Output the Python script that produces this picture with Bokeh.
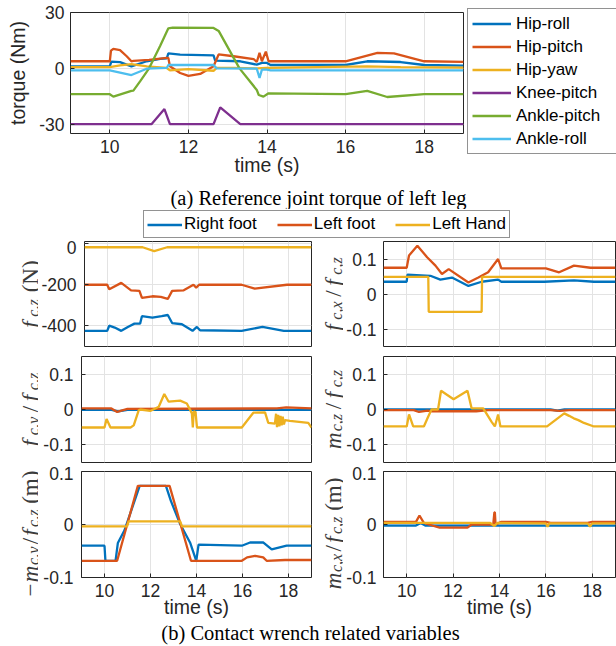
import math
from bokeh.plotting import figure
from bokeh.models import Legend, LegendItem, Label, FixedTicker, Range1d
from bokeh.layouts import column, row
from bokeh.embed import file_html
from bokeh.resources import INLINE

# ---------------- data: (a) reference joint torque of left leg ----------------
joint_names = ["Hip-roll", "Hip-pitch", "Hip-yaw", "Knee-pitch", "Ankle-pitch", "Ankle-roll"]

hip_roll_t = [9, 10.0, 10.04, 10.26, 10.55, 10.94, 11.28, 11.45, 11.49, 11.79, 12.64, 12.68, 13.32, 13.74, 13.87, 14.0, 14.09, 16.0, 16.55, 17.4, 18.0, 19]
hip_roll_v = [1.1, 1.1, 3.6, 3.3, 1.1, 3.8, 5.1, 5.4, 8.0, 7.4, 7.0, 4.2, 3.8, 2.0, 2.9, 2.9, 1.8, 1.8, 3.8, 3.4, 1.8, 1.5]

hip_pitch_t = [9, 10.0, 10.03, 10.09, 10.26, 10.43, 10.55, 10.6, 11.0, 11.45, 11.49, 11.53, 11.79, 12.0, 12.3, 12.64, 12.72, 12.77, 13.15, 13.66, 13.74, 13.81, 13.87, 13.97, 14.04, 16.0, 16.81, 17.23, 18.0, 19]
hip_pitch_v = [3.8, 3.8, 9.5, 10.5, 9.8, 6.5, 3.8, 4.0, 4.5, 5.6, 5.6, 1.1, -2.5, -4.0, -3.0, 1.1, 5.0, 7.5, 6.5, 5.0, 3.4, 8.3, 3.8, 9.0, 3.8, 3.8, 8.3, 8.0, 3.8, 3.5]

hip_yaw_t = [9, 10.0, 10.26, 10.55, 10.94, 11.45, 11.53, 12.0, 12.64, 12.72, 13.15, 13.74, 14.0, 16.55, 17.4, 19]
hip_yaw_v = [0.7, 0.7, 1.6, 2.3, 1.1, 0.2, -1.1, -0.4, -1.3, 0.2, 0.2, 0.0, 0.2, 1.1, 0.7, 0.4]

knee_pitch_t = [9, 11.06, 11.39, 11.53, 12.64, 12.81, 13.32, 19]
knee_pitch_v = [-30, -30, -21.9, -30, -30, -21.0, -30, -30]

ankle_pitch_t = [9, 10.0, 10.09, 10.55, 10.6, 10.77, 11.0, 11.28, 11.49, 11.6, 12.64, 12.77, 13.3, 13.74, 13.79, 13.91, 14.04, 16.0, 16.55, 17.06, 18.0, 19]
ankle_pitch_v = [-13.9, -13.9, -15.2, -12.1, -12.0, -7.0, 0.0, 12.0, 21.5, 21.9, 21.7, 20.1, 0.0, -11.6, -14.3, -15.2, -13.4, -13.9, -12.1, -15.4, -13.9, -13.9]

ankle_roll_t = [9, 10.0, 10.55, 10.94, 11.45, 11.49, 12.64, 12.72, 13.74, 13.81, 13.87, 14.0, 14.09, 19]
ankle_roll_v = [-1.1, -1.1, -3.6, -0.2, 0.2, 1.8, 1.8, 0.0, -0.2, -5.2, -0.7, -0.7, -1.1, -1.1]

# ---------------- data: (b) contact wrench related variables ----------------
contact_names = ["Right foot", "Left foot", "Left Hand"]

# f_cz (N)
fz_rfoot_t = [9, 10.0, 10.09, 10.33, 10.62, 10.91, 11.2, 11.45, 11.53, 11.99, 12.4, 12.67, 12.86, 13.29, 13.76, 13.95, 14.09, 15.92, 16.84, 17.78, 19]
fz_rfoot_v = [-424, -424, -399, -408, -424, -405, -389, -389, -353, -360, -353, -347, -386, -392, -424, -405, -421, -424, -405, -424, -424]
fz_lfoot_t = [9, 10.0, 10.09, 10.62, 11.05, 11.42, 11.53, 11.99, 12.36, 12.67, 12.86, 13.37, 13.8, 13.92, 14.05, 15.92, 16.5, 17.92, 19]
fz_lfoot_v = [-200, -200, -222, -191, -227, -230, -264, -256, -259, -269, -230, -227, -200, -214, -200, -200, -219, -200, -200]
fz_lhand_t = [9, 11.56, 12.07, 12.64, 19]
fz_lhand_v = [-18, -18, -37, -18, -18]

# f_cx / f_cz
fx_rfoot_t = [9, 10.0, 10.03, 11.02, 11.45, 11.95, 12.66, 13.23, 13.94, 14.08, 15.93, 17.21, 18.07, 19]
fx_rfoot_v = [0.035, 0.035, 0.055, 0.052, 0.041, 0.047, 0.023, 0.035, 0.041, 0.035, 0.035, 0.039, 0.035, 0.035]
fx_lfoot_t = [9, 10.0, 10.1, 10.46, 10.88, 11.24, 11.52, 11.81, 12.66, 13.09, 13.51, 13.94, 14.08, 16.0, 16.57, 17.21, 17.92, 19]
fx_lfoot_v = [0.075, 0.075, 0.11, 0.138, 0.105, 0.081, 0.057, 0.071, 0.033, 0.047, 0.062, 0.10, 0.073, 0.073, 0.062, 0.081, 0.075, 0.075]
fx_lhand_t = [9, 10.93, 10.95, 13.23, 13.25, 19]
fx_lhand_v = [0.049, 0.049, -0.051, -0.051, 0.049, 0.049]

# f_cy / f_cz
fy_rfoot_t = [9, 10.3, 10.6, 11.0, 19]
fy_rfoot_v = [-0.001, -0.001, -0.005, -0.001, -0.001]
fy_lfoot_t = [9, 10.3, 10.55, 11.0, 17.5, 17.9, 19]
fy_lfoot_v = [0.003, 0.003, -0.007, 0.002, 0.003, 0.006, 0.003]
fy_lhand_t = [9, 10.0, 10.09, 10.26, 11.13, 11.27, 11.49, 11.56, 11.99, 12.36, 12.6, 12.79, 13.29, 13.58, 13.8, 13.84, 13.88, 13.96, 14.02, 15.97, 16.47, 16.98, 17.12, 17.41, 17.46, 17.5, 17.55, 17.6, 17.65, 17.7, 17.75, 17.8, 17.85, 18.06, 18.86, 19]
fy_lhand_v = [-0.051, -0.051, -0.027, -0.051, -0.051, -0.045, -0.002, 0.0, -0.004, 0.008, 0.044, 0.022, 0.025, 0.017, -0.011, -0.051, -0.005, -0.008, -0.051, -0.051, -0.009, -0.008, -0.038, -0.040, -0.012, -0.050, -0.015, -0.048, -0.018, -0.045, -0.020, -0.042, -0.030, -0.032, -0.038, -0.051]

# m_cz / f_cz
mz_rfoot_t = [9, 16.2, 16.5, 16.8, 19]
mz_rfoot_v = [0.0, 0.0, -0.003, 0.0, 0.0]
mz_lfoot_t = [9, 10.3, 10.53, 10.9, 11.1, 13.0, 13.5, 16.2, 16.6, 17.0, 19]
mz_lfoot_v = [-0.002, -0.002, -0.007, -0.003, -0.005, -0.005, -0.002, -0.002, -0.004, -0.002, -0.002]
mz_lhand_t = [9, 10.0, 10.1, 10.28, 10.74, 10.92, 11.07, 11.35, 11.48, 12.02, 12.62, 12.8, 13.3, 13.66, 13.8, 13.94, 14.04, 16.05, 16.79, 17.0, 17.2, 17.4, 17.64, 18.07, 19]
mz_lhand_v = [-0.048, -0.048, -0.014, -0.048, -0.048, -0.021, 0.0, 0.0, 0.053, 0.029, 0.053, 0.003, 0.003, -0.035, -0.048, -0.014, -0.048, -0.048, -0.011, -0.018, -0.025, -0.030, -0.038, -0.048, -0.048]

# -m_cy / f_cz (m)
my_rfoot_t = [9, 10.0, 10.04, 10.48, 10.58, 10.87, 11.53, 12.67, 12.89, 13.29, 13.73, 13.99, 14.09, 15.97, 16.33, 16.91, 17.27, 17.92, 19]
my_rfoot_v = [-0.04, -0.04, -0.0685, -0.0685, -0.035, -0.011, 0.073, 0.073, 0.044, 0.001, -0.035, -0.0685, -0.038, -0.04, -0.034, -0.034, -0.047, -0.04, -0.04]
my_lfoot_t = [9, 10.55, 11.45, 12.83, 13.76, 15.97, 16.2, 16.55, 16.9, 17.05, 17.85, 19]
my_lfoot_v = [-0.0685, -0.0685, 0.073, 0.073, -0.0685, -0.0685, -0.062, -0.059, -0.062, -0.0685, -0.067, -0.067]
my_lhand_t = [9, 10.98, 11.05, 13.29, 13.37, 19]
my_lhand_v = [-0.0036, -0.0036, 0.006, 0.006, -0.0036, -0.0036]

# m_cx / f_cz (m)
mx_rfoot_t = [9, 10.4, 10.6, 10.8, 19]
mx_rfoot_v = [-0.002, -0.002, 0.003, -0.002, -0.002]
mx_lfoot_t = [9, 10.4, 10.55, 10.74, 10.95, 11.42, 12.62, 12.8, 13.73, 13.78, 13.8, 13.83, 14.08, 16.0, 16.2, 17.8, 18.0, 19]
mx_lfoot_v = [0.005, 0.005, 0.017, 0.003, 0.0, -0.006, -0.006, 0.0, 0.0, 0.023, 0.023, 0.0, 0.005, 0.005, 0.003, 0.003, 0.005, 0.005]
mx_lhand_t = [9, 13.6, 13.78, 13.9, 16.0, 16.07, 16.15, 17.8, 17.9, 18.0, 19]
mx_lhand_v = [0.003, 0.003, -0.003, 0.003, 0.002, -0.004, 0.002, 0.002, -0.004, 0.002, 0.002]

# ticks
time_ticks = [10, 12, 14, 16, 18]
torque_ticks = [-30, 0, 30]
torque_tick_labels = ["-30", "0", "30"]
fz_ticks = [-400, -200, 0]
fz_tick_labels = ["-400", "-200", "0"]
ratio_ticks = [-0.1, 0, 0.1]
ratio_tick_labels = ["-0.1", "0", "0.1"]

# ---------------- style ----------------
SANS = "Liberation Sans"
SERIF = "Liberation Serif"
INK = "#262626"
GRID = "#e3e3e3"
LBLC = "#3c3c3c"
LW = 2.3
BLUE, ORANGE, YELLOW = "#0072BD", "#D95319", "#EDB120"
PURPLE, GREEN, CYAN = "#7E2F8E", "#77AC30", "#4DBEEE"
JOINT_COLORS = [BLUE, ORANGE, YELLOW, PURPLE, GREEN, CYAN]
CONTACT_COLORS = [BLUE, ORANGE, YELLOW]


def style(p, yticks, ylabels, show_x, ystandoff=7, xlab_standoff=-4):
    p.outline_line_color = INK
    p.outline_line_width = 1
    for ax in p.axis:
        ax.axis_line_color = None
        ax.major_tick_in = 4
        ax.major_tick_out = 0
        ax.minor_tick_line_color = None
        ax.major_tick_line_color = INK
        ax.major_label_text_font = SANS
        ax.major_label_text_font_size = "17.5px"
        ax.major_label_text_color = INK
        ax.axis_label_text_font = SANS
        ax.axis_label_text_font_size = "19.5px"
        ax.axis_label_text_font_style = "normal"
        ax.axis_label_text_color = INK
    p.xaxis.ticker = FixedTicker(ticks=time_ticks)
    p.yaxis.ticker = FixedTicker(ticks=yticks)
    p.yaxis.major_label_overrides = {t: s for t, s in zip(yticks, ylabels)}
    p.yaxis.major_label_standoff = ystandoff
    p.xaxis.major_label_standoff = 6
    p.xgrid.ticker = FixedTicker(ticks=time_ticks)
    p.ygrid.ticker = FixedTicker(ticks=yticks)
    p.grid.grid_line_color = GRID
    p.grid.grid_line_width = 1
    if show_x:
        p.xaxis.axis_label = "time (s)"
        p.xaxis.axis_label_standoff = xlab_standoff
    else:
        p.xaxis.visible = False


def panel(width, height, yr, yticks, ylabels, left, right, top, bottom, show_x,
          ystandoff=7, xlab_standoff=-4):
    p = figure(width=width, height=height, x_range=Range1d(9, 19), y_range=Range1d(*yr),
               output_backend="svg", toolbar_location=None, frame_align=False,
               min_border_left=left, min_border_right=right,
               min_border_top=top, min_border_bottom=bottom)
    style(p, yticks, ylabels, show_x, ystandoff, xlab_standoff)
    return p


def blank(width, height):
    return figure(width=width, height=height, x_range=Range1d(0, 1), y_range=Range1d(0, 1),
                  x_axis_type=None, y_axis_type=None, output_backend="svg",
                  toolbar_location=None, frame_align=False,
                  min_border_left=0, min_border_right=0, min_border_top=0,
                  min_border_bottom=0, outline_line_color=None)


IT_W = {"f": .278, "c": .444, "x": .444, "y": .444, "z": .389, "m": .722, ",": .25}
RM_W = {"(": .333, ")": .333, "N": .722, "m": .778, "/": .278, "\u2212": .564, " ": .25}


def math_ylabel(p, pieces, xb, yc, S=23):
    items = []
    total = 0.0
    for text, italic, sub, gap in pieces:
        size = S * 0.7 if sub else S
        tbl = IT_W if italic else RM_W
        w = sum(tbl.get(ch, .5) for ch in text) * size
        items.append((text, italic, sub, size, total))
        total += w + gap * S
    y0 = yc - total / 2.0
    for text, italic, sub, size, off in items:
        p.add_layout(Label(x=xb + (0.15 * S if sub else 0), y=y0 + off,
                           x_units="screen", y_units="screen", text=text,
                           angle=math.pi / 2, text_font=SERIF,
                           text_font_style="italic" if italic else "normal",
                           text_font_size="%.1fpx" % size, text_color=LBLC,
                           text_align="left", text_baseline="alphabetic"))


# ---------------- (a) top figure ----------------
TOP_H = 180
top = panel(467, TOP_H, (-35, 30), torque_ticks, torque_tick_labels, 70, 4, 12, 47, True, 6, -2)
top.yaxis.axis_label = "torque (Nm)"
top.yaxis.axis_label_standoff = 7
joint_series = [(hip_roll_t, hip_roll_v), (hip_pitch_t, hip_pitch_v), (hip_yaw_t, hip_yaw_v),
                (knee_pitch_t, knee_pitch_v), (ankle_pitch_t, ankle_pitch_v), (ankle_roll_t, ankle_roll_v)]
for (t, v), c in zip(joint_series, JOINT_COLORS):
    top.line(t, v, line_color=c, line_width=LW)

# legend panel (its own canvas; the sample renderers fall outside its 0..1 ranges)
legfig = blank(149, TOP_H)
items = []
for name, (t, v), c in zip(joint_names, joint_series, JOINT_COLORS):
    r = legfig.line(t, v, line_color=c, line_width=LW)
    items.append(LegendItem(label=name, renderers=[r]))
leg = Legend(items=items, location=(0, 26), label_text_font=SANS, label_text_font_size="17px",
             label_text_color="black", glyph_width=39, glyph_height=21, label_height=21, label_width=100,
             label_standoff=5, spacing=2, padding=4, margin=0, border_line_color=INK,
             border_line_width=1, background_fill_alpha=1.0)
legfig.add_layout(leg, "center")

capA = blank(616, 29)
capA.add_layout(Label(x=318, y=12, x_units="screen", y_units="screen",
                      text="(a) Reference joint torque of left leg", text_align="center",
                      text_baseline="middle", text_font=SERIF, text_font_size="20.5px",
                      text_color="black"))

# ---------------- legend row ----------------
contact_samples = [(fz_rfoot_t, fz_rfoot_v), (fz_lfoot_t, fz_lfoot_v), (fz_lhand_t, fz_lhand_v)]
lf = blank(616, 31)
litems = []
for name, (t, v), c in zip(contact_names, contact_samples, CONTACT_COLORS):
    r = lf.line(t, v, line_color=c, line_width=LW)
    litems.append(LegendItem(label=name, renderers=[r]))
lleg = Legend(items=litems, location=(143, 2), orientation="horizontal", label_text_font=SANS,
              label_text_font_size="17px", label_text_color="black", glyph_width=35,
              glyph_height=19, label_height=19, label_standoff=2, spacing=20, padding=3,
              margin=0, border_line_color=INK, border_line_width=1)
lf.add_layout(lleg, "center")

# ---------------- (b) panels ----------------
rows_spec = [
    (((-500, 10), fz_ticks, fz_tick_labels,
      [(fz_rfoot_t, fz_rfoot_v), (fz_lfoot_t, fz_lfoot_v), (fz_lhand_t, fz_lhand_v)],
      [("f", True, False, 0.2), ("c,z", True, True, 0.3), ("(N)", False, False, 0)]),
     ((-0.15, 0.15), ratio_ticks, ratio_tick_labels,
      [(fx_rfoot_t, fx_rfoot_v), (fx_lfoot_t, fx_lfoot_v), (fx_lhand_t, fx_lhand_v)],
      [("f", True, False, 0.2), ("c,x", True, True, 0.2), ("/", False, False, 0.2),
       ("f", True, False, 0.2), ("c,z", True, True, 0)])),
    (((-0.15, 0.15), ratio_ticks, ratio_tick_labels,
      [(fy_rfoot_t, fy_rfoot_v), (fy_lfoot_t, fy_lfoot_v), (fy_lhand_t, fy_lhand_v)],
      [("f", True, False, 0.2), ("c,y", True, True, 0.2), ("/", False, False, 0.2),
       ("f", True, False, 0.2), ("c,z", True, True, 0)]),
     ((-0.15, 0.15), ratio_ticks, ratio_tick_labels,
      [(mz_rfoot_t, mz_rfoot_v), (mz_lfoot_t, mz_lfoot_v), (mz_lhand_t, mz_lhand_v)],
      [("m", True, False, 0.05), ("c,z", True, True, 0.2), ("/", False, False, 0.2),
       ("f", True, False, 0.2), ("c,z", True, True, 0)])),
    (((-0.1, 0.1), ratio_ticks, ratio_tick_labels,
      [(my_rfoot_t, my_rfoot_v), (my_lfoot_t, my_lfoot_v), (my_lhand_t, my_lhand_v)],
      [("\u2212", False, False, 0.05), ("m", True, False, 0.03), ("c,y", True, True, 0.1),
       ("/", False, False, 0.1), ("f", True, False, 0.1), ("c,z", True, True, 0.25),
       ("(m)", False, False, 0)]),
     ((-0.1, 0.1), ratio_ticks, ratio_tick_labels,
      [(mx_rfoot_t, mx_rfoot_v), (mx_lfoot_t, mx_lfoot_v), (mx_lhand_t, mx_lhand_v)],
      [("m", True, False, 0.03), ("c,x", True, True, 0.1), ("/", False, False, 0.1),
       ("f", True, False, 0.1), ("c,z", True, True, 0.25), ("(m)", False, False, 0)])),
]
# (height, top border, bottom border, show x axis, label centre shift)
row_geom = [(111, 1, 5, False, 0), (115, 5, 4, False, 0), (154, 5, 43, True, -9)]
# (label fig width, baseline x, panel width, left border, right border, tick standoff)
col_geom = [(38, 29.5, 275, 43, 2, 8), (30, 20.0, 273, 37, 1, 7)]

grid_rows = []
for (lspec, rspec), (h, tb, bb, showx, yshift) in zip(rows_spec, row_geom):
    figs = []
    for spec, (lw_, xb, pw, lb, rb, so) in zip((lspec, rspec), col_geom):
        yr, yt, yl, series, lab = spec
        lab_fig = blank(lw_, h)
        frame_h = h - tb - bb
        math_ylabel(lab_fig, lab, xb, bb + frame_h / 2.0 + yshift)
        p = panel(pw, h, yr, yt, yl, lb, rb, tb, bb, showx, so)
        for (t, v), c in zip(series, CONTACT_COLORS):
            p.line(t, v, line_color=c, line_width=LW)
        figs += [lab_fig, p]
    grid_rows.append(row(*figs))

capB = blank(616, 26)
capB.add_layout(Label(x=310, y=14, x_units="screen", y_units="screen",
                      text="(b) Contact wrench related variables", text_align="center",
                      text_baseline="middle", text_font=SERIF, text_font_size="20.5px",
                      text_color="black"))

layout = column(row(top, legfig), capA, lf, *grid_rows, capB)
open("out.html", "w").write(file_html(layout, INLINE))
